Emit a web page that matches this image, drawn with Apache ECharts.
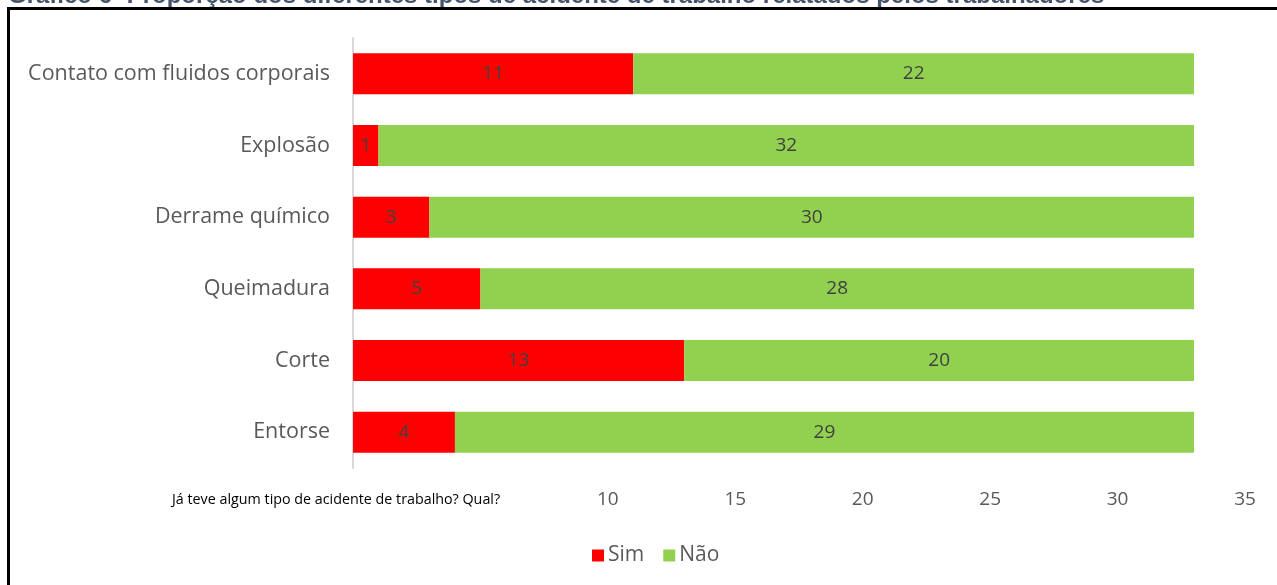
<!DOCTYPE html>
<html>
<head>
<meta charset="utf-8">
<script src="https://cdn.jsdelivr.net/npm/echarts@6/dist/echarts.min.js"></script>
<style>
  html, body { margin: 0; padding: 0; background: #ffffff; }
  #chart { width: 1277px; height: 585px; }
</style>
</head>
<body>
<div id="chart"></div>
<script>
// Accident types reported by workers, with yes/no counts
const categories = [
  'Contato com fluidos corporais',
  'Explosão',
  'Derrame químico',
  'Queimadura',
  'Corte',
  'Entorse'
];
const simValues = [11, 1, 3, 5, 13, 4];
const naoValues = [22, 32, 30, 28, 20, 29];
const shownTicks = [10, 15, 20, 25, 30, 35];
const seriesNames = ['Sim', 'Não'];
const titleText = 'Gráfico 6 -Proporção dos diferentes tipos de acidente de trabalho relatados pelos trabalhadores';
const questionText = 'Já teve algum tipo de acidente de trabalho? Qual?';

const FONT = '"Open Sans", Lato, sans-serif';

const chart = echarts.init(document.getElementById('chart'), null, { renderer: 'canvas' });

const labelStyle = {
  show: true,
  position: 'inside',
  color: '#404040',
  fontFamily: FONT,
  fontSize: 19
};

chart.setOption({
  animation: false,
  backgroundColor: '#ffffff',
  grid: { left: 353, right: 32, top: 38, bottom: 117, containLabel: false },
  legend: {
    data: seriesNames,
    left: 587,
    top: 540,
    itemWidth: 12,
    itemHeight: 12,
    itemGap: 19,
    icon: 'rect',
    textStyle: { color: '#595959', fontFamily: FONT, fontSize: 21, padding: [0, 0, 0, -1] }
  },
  xAxis: {
    type: 'value',
    min: 0,
    max: 35,
    interval: 5,
    axisLine: { show: false },
    axisTick: { show: false },
    splitLine: { show: false },
    axisLabel: {
      color: '#595959',
      fontFamily: FONT,
      fontSize: 19,
      margin: 22,
      formatter: v => (shownTicks.indexOf(v) >= 0 ? String(v) : '')
    }
  },
  yAxis: {
    type: 'category',
    data: categories,
    inverse: true,
    axisLine: { show: true, lineStyle: { color: '#d9d9d9', width: 2 } },
    axisTick: { show: false },
    axisLabel: {
      color: '#595959',
      fontFamily: FONT,
      fontSize: 21.5,
      margin: 23
    }
  },
  series: [
    {
      name: seriesNames[0],
      type: 'bar',
      stack: 'total',
      data: simValues,
      barWidth: 41,
      itemStyle: { color: '#ff0000' },
      label: labelStyle
    },
    {
      name: seriesNames[1],
      type: 'bar',
      stack: 'total',
      data: naoValues,
      barWidth: 41,
      itemStyle: { color: '#92d050' },
      label: labelStyle
    }
  ],
  graphic: [
    {
      type: 'text',
      left: 8,
      top: -16,
      style: {
        text: titleText,
        fill: '#44546a',
        font: 'bold 24px "Liberation Sans", Arial, sans-serif'
      }
    },
    {
      type: 'rect',
      shape: { x: 8.5, y: 8.5, width: 1300, height: 700 },
      style: { fill: 'none', stroke: '#000000', lineWidth: 3 }
    },
    {
      type: 'text',
      left: 172,
      top: 493,
      style: {
        text: questionText,
        fill: '#000000',
        font: '14.3px "Open Sans", sans-serif'
      }
    }
  ]
});
</script>
</body>
</html>
